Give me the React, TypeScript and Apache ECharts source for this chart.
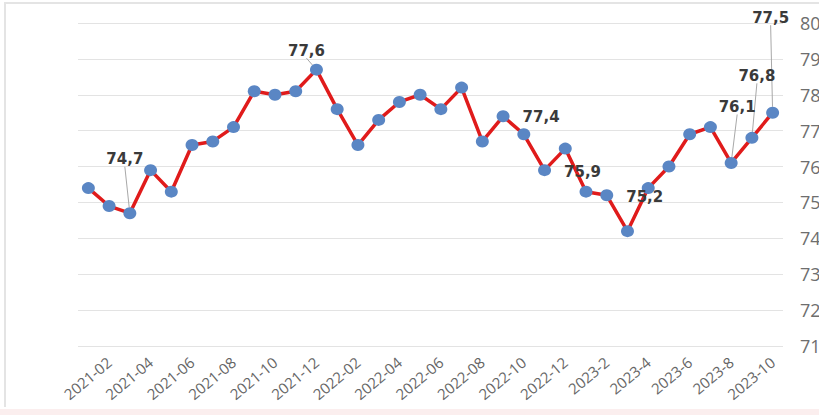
import React, { useEffect, useRef } from "react";
import * as echarts from "echarts";

const categories: string[] = [
  "2021-01", "2021-02", "2021-03", "2021-04", "2021-05", "2021-06", "2021-07", "2021-08", "2021-09", "2021-10", "2021-11", "2021-12",
  "2022-01", "2022-02", "2022-03", "2022-04", "2022-05", "2022-06", "2022-07", "2022-08", "2022-09", "2022-10", "2022-11", "2022-12",
  "2023-1", "2023-2", "2023-3", "2023-4", "2023-5", "2023-6", "2023-7", "2023-8", "2023-9", "2023-10",
];

const values: number[] = [
  75.4, 74.9, 74.7, 75.9, 75.3, 76.6, 76.7, 77.1, 78.1, 78.0, 78.1, 78.7,
  77.6, 76.6, 77.3, 77.8, 78.0, 77.6, 78.2, 76.7, 77.4, 76.9, 75.9, 76.5,
  75.3, 75.2, 74.2, 75.4, 76.0, 76.9, 77.1, 76.1, 76.8, 77.5,
];

// data labels shown on selected points (index -> text)
const labelIndices: number[] = [2, 11, 20, 22, 25, 31, 32, 33];
const labelTexts: string[] = ["74,7", "77,6", "77,4", "75,9", "75,2", "76,1", "76,8", "77,5"];

const yMin = 71;
const yMax = 80;
const yStep = 1;

// label offsets in pixels relative to the point
const labelOffsets: Record<number, [number, number]> = {
  2: [-5, -54],
  11: [-10, -19],
  20: [38, 1],
  22: [38, 2],
  25: [38, 2],
  31: [6, -56],
  32: [5, -62],
  33: [-2, -95],
};
const guided: number[] = [2, 11, 31, 32, 33];

export default function App() {
  const ref = useRef<HTMLDivElement>(null);
  useEffect(() => {
    if (!ref.current) return;
    const chart = echarts.init(ref.current, undefined, { renderer: "svg" });
    const data = values.map((v, i) => {
      const li = labelIndices.indexOf(i);
      if (li >= 0) {
        return {
          value: v,
          label: {
            show: true,
            formatter: labelTexts[li],
          },
          labelLine: { show: guided.indexOf(i) >= 0 },
        };
      }
      return { value: v };
    });
    chart.setOption({
      animation: false,
      grid: { left: 78, right: 36, top: 23, bottom: 69, containLabel: false, outerBoundsMode: "none" },
      xAxis: {
        type: "category",
        data: categories,
        boundaryGap: true,
        axisLine: { show: false },
        axisTick: { show: false },
        axisLabel: {
          interval: (idx: number) => idx % 2 === 1,
          rotate: 40,
          margin: 14,
          color: "#666666",
          fontSize: 15,
          fontFamily: "Open Sans",
        },
        splitLine: { show: false },
      },
      yAxis: {
        type: "value",
        position: "right",
        min: yMin,
        max: yMax,
        interval: yStep,
        axisLine: { show: false },
        axisTick: { show: false },
        axisLabel: {
          margin: 17,
          color: "#6e6e6e",
          fontSize: 18,
          fontFamily: "Open Sans",
        },
        splitLine: { lineStyle: { color: "#e3e3e3", width: 1 } },
      },
      series: [
        {
          type: "line",
          data,
          symbol: "circle",
          symbolSize: [13, 12],
          lineStyle: { color: "#e01b1b", width: 3.5 },
          itemStyle: { color: "#5a86c4" },
          label: {
            show: false,
            position: "inside",
            color: "#3a3a3a",
            fontWeight: "bold",
            fontSize: 15,
            fontFamily: "DejaVu Sans",
          },
          labelLine: {
            show: false,
            lineStyle: { color: "#a8a8a8", width: 1 },
          },
          labelLayout: (params: any) => {
            const off = labelOffsets[params.dataIndex];
            if (!off) return {};
            return { dx: off[0], dy: off[1] };
          },
          z: 3,
        },
      ],
    });
    return () => chart.dispose();
  }, []);

  return (
    <div style={{ position: "fixed", left: 0, top: 0, width: 819, height: 415, overflow: "hidden", background: "#fff" }}>
      <div
        style={{
          position: "absolute",
          left: 4,
          top: 2,
          width: 840,
          height: 403,
          borderLeft: "2px solid #e4e4e4",
          borderTop: "2px solid #e4e4e4",
          overflow: "hidden",
        }}
      >
        <div ref={ref} style={{ position: "absolute", left: -6, top: -4, width: 819, height: 415 }} />
      </div>
      <div style={{ position: "absolute", left: 0, top: 409, width: 819, height: 6, background: "#fbeeee" }} />
    </div>
  );
}
